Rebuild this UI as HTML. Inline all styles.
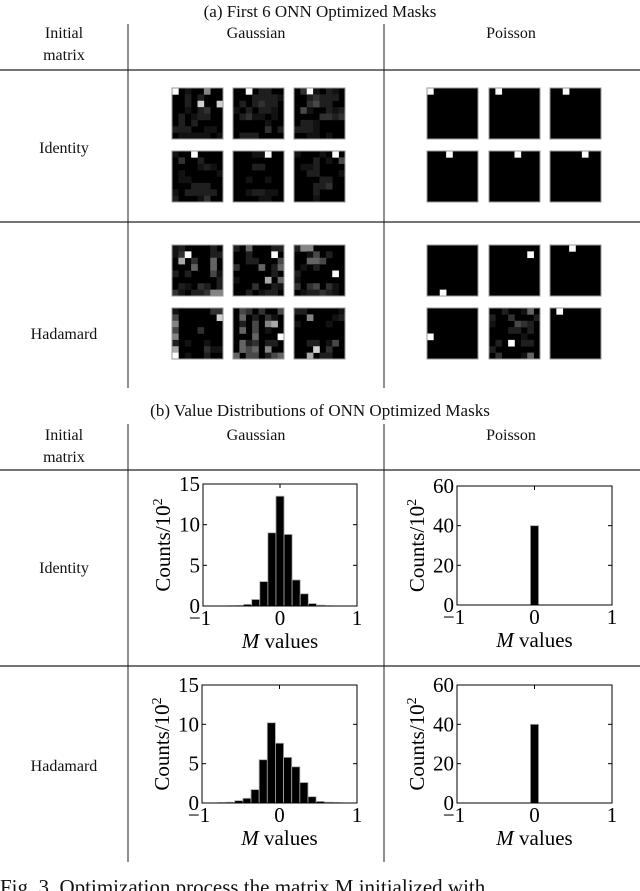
<!DOCTYPE html>
<html><head><meta charset="utf-8"><style>
html,body{margin:0;padding:0;background:#fff;}
svg{display:block;font-family:"Liberation Serif",serif;}
</style></head><body>
<svg id="fig" width="640" height="891" viewBox="0 0 640 891" xmlns="http://www.w3.org/2000/svg">
<g stroke="#222" fill="none">
<line x1="0" y1="70" x2="640" y2="70" stroke-width="1.2"/>
<line x1="0" y1="222" x2="640" y2="222" stroke-width="1.2"/>
<line x1="128" y1="24" x2="128" y2="388" stroke-width="1"/>
<line x1="384" y1="24" x2="384" y2="388" stroke-width="1"/>
<line x1="0" y1="470" x2="640" y2="470" stroke-width="1.2"/>
<line x1="0" y1="666" x2="640" y2="666" stroke-width="1.2"/>
<line x1="128" y1="424" x2="128" y2="862" stroke-width="1"/>
<line x1="384" y1="424" x2="384" y2="862" stroke-width="1"/>
</g>
<g font-size="17" text-anchor="middle" fill="#111">
<text x="320" y="17">(a) First 6 ONN Optimized Masks</text>
<text x="64" y="38" font-size="16">Initial</text>
<text x="64" y="60" font-size="16">matrix</text>
<text x="256" y="38" font-size="16">Gaussian</text>
<text x="511" y="38" font-size="16">Poisson</text>
<text x="64" y="153" font-size="16">Identity</text>
<text x="64" y="339" font-size="16">Hadamard</text>
<text x="320" y="416">(b) Value Distributions of ONN Optimized Masks</text>
<text x="64" y="440" font-size="16">Initial</text>
<text x="64" y="462" font-size="16">matrix</text>
<text x="256" y="440" font-size="16">Gaussian</text>
<text x="511" y="440" font-size="16">Poisson</text>
<text x="64" y="573" font-size="16">Identity</text>
<text x="64" y="771" font-size="16">Hadamard</text>
<text x="0" y="894" font-size="21" text-anchor="start">Fig. 3.  Optimization process the matrix M initialized with</text>
</g>
<g id="masks"></g>
<g id="hists"></g>
</svg>
<script>
// Mask intensity data (digits 0-9 per pixel, 8x8)
const gaussIdentity = [
["90100600","00202000","00208008","00102300","02012200","02020000","22200110","01111101"],
["00902200","00022221","02023220","10202210","02311010","00000100","00000302","02220000"],
["03910210","00232220","00342200","04100212","00003323","02210000","22210000","00110100"],
["10090000","03002000","00001210","01000001","01100000","00022200","10222220","20001300"],
["00011900","00000000","00022000","00000000","00100100","00000000","00122110","00001100"],
["10001090","00020104","01120000","00220001","00002200","00022300","00020000","00010000"]
];
const gaussHadamard = [
["12000020","13900022","07030050","00050050","20200041","00000002","02103202","31022366"],
["20500022","00200090","00220004","30005025","00000020","10000705","00030021","00201220"],
["26600000","00140200","00554000","01020000","20000090","10000000","30340310","01223210"],
["10000033","40000008","60000000","40003000","60000000","20100100","70000311","90100200"],
["04303004","05020310","02040670","05040100","00050009","05230220","05450600","50440245"],
["22000001","00600012","10000100","00000000","00000000","00220140","00080300","00702200"]
];
// Poisson masks: single bright pixel [row, col]; null = noisy
const poisIdentity = [[0,0],[0,1],[0,2],[0,3],[0,4],[0,5]];
const poisHadamard = [[7,2],[1,6],[0,3],[4,0],null,[0,1]];
const poisNoisy = ["00200150","20030002","10004320","00022020","00000100","02090220","20000000","03000150"];

// Histogram data (bin centers index * width)
const binWidth = 0.105;
const gaussIdBins = [-6,-5,-4,-3,-2,-1,0,1,2,3,4,5,6];
const gaussIdCounts = [0.03,0.05,0.2,0.8,3.0,9.0,13.5,8.8,3.2,1.5,0.3,0.1,0.03];
const gaussHadBins = [-7,-6,-5,-4,-3,-2,-1,0,1,2,3,4,5,6,7];
const gaussHadCounts = [0.05,0.1,0.3,0.6,1.7,5.5,10.2,7.6,5.8,4.6,2.6,0.8,0.2,0.1,0.05];
const poisBins = [0];
const poisIdCounts = [40];
const poisHadCounts = [40];
const gaussTicks = [0,5,10,15];
const poisTicks = [0,20,40,60];
const xTicks = [-1,0,1];

const NS="http://www.w3.org/2000/svg";
function mk(tag,attrs,parent){const e=document.createElementNS(NS,tag);for(const k in attrs)e.setAttribute(k,attrs[k]);parent.appendChild(e);return e;}
const masks=document.getElementById('masks');
function drawMask(x,y,rows,name){
  const g=mk('g',{},masks);
  
  
  const s=51/8;
  mk('rect',{x:x,y:y,width:51,height:51,fill:'#000'},g);
  for(let r=0;r<8;r++)for(let c=0;c<8;c++){
    const v=+rows[r][c]; if(!v)continue;
    const l=Math.round(Math.pow(v/9,1.7)*240+12);
    mk('rect',{x:x+c*s,y:y+r*s,width:s+0.3,height:s+0.3,fill:`rgb(${l},${l},${l})`},g);
  }
  mk('rect',{x:x,y:y,width:51,height:51,fill:'none',stroke:'#999','stroke-width':1},g);
}
function single(p){const rows=[];for(let r=0;r<8;r++){let s='';for(let c=0;c<8;c++)s+=(p&&p[0]===r&&p[1]===c)?'9':'0';rows.push(s);}return rows;}
const gx=[172,233,294], px=[427,489,550];
const yId=[88,151], yHad=[245,308];
for(let i=0;i<6;i++){
  const col=i%3,row=Math.floor(i/3);
  drawMask(gx[col],yId[row],gaussIdentity[i],'gaussian-identity-mask-'+(i+1));
  drawMask(gx[col],yHad[row],gaussHadamard[i],'gaussian-hadamard-mask-'+(i+1));
  drawMask(px[col],yId[row],single(poisIdentity[i]),'poisson-identity-mask-'+(i+1));
  drawMask(px[col],yHad[row],poisHadamard[i]?single(poisHadamard[i]):poisNoisy,'poisson-hadamard-mask-'+(i+1));
}

const hists=document.getElementById('hists');
function drawHist(L,R,T,B,bins,counts,ticks,name){
  const g=mk('g',{},hists);
  
  
  const ymax=ticks[ticks.length-1];
  const sx=v=>L+(v+1)/2*(R-L), sy=v=>B-v/ymax*(B-T);
  bins.forEach((b,i)=>{
    const x0=sx(b*binWidth-binWidth/2), x1=sx(b*binWidth+binWidth/2);
    const bar=mk('rect',{x:x0,y:sy(counts[i]),width:x1-x0,height:B-sy(counts[i]),fill:'#000',stroke:'#aaa','stroke-width':0.8},g);
    
    
  });
  mk('rect',{x:L,y:T,width:R-L,height:B-T,fill:'none',stroke:'#000','stroke-width':1},g);
  ticks.forEach(t=>{
    const y=sy(t);
    mk('line',{x1:L,y1:y,x2:L+4,y2:y,stroke:'#000'},g);
    mk('line',{x1:R,y1:y,x2:R-4,y2:y,stroke:'#000'},g);
    const tx=mk('text',{x:L-3,y:y+7,'font-size':21,'text-anchor':'end'},g);
    tx.textContent=t;
    
    
  });
  xTicks.forEach(t=>{
    const x=sx(t);
    mk('line',{x1:x,y1:B,x2:x,y2:B-4,stroke:'#000'},g);
    mk('line',{x1:x,y1:T,x2:x,y2:T+4,stroke:'#000'},g);
    const tx=mk('text',{x:t<0?x-3:x,y:B+19,'font-size':21,'text-anchor':'middle'},g);
    tx.textContent=t<0?'\u2212'+Math.abs(t):t;
    
    
  });
  const xl=mk('text',{x:(L+R)/2,y:B+42,'font-size':21,'text-anchor':'middle'},g);
  xl.innerHTML='<tspan font-style="italic">M</tspan> values';
  
  
  const cy=(T+B)/2;
  const yl=mk('text',{x:0,y:0,'font-size':21,'text-anchor':'middle',transform:`translate(${L-33},${cy}) rotate(-90)`},g);
  yl.innerHTML='Counts/10<tspan dy="-8" font-size="14">2</tspan>';
  
  
}
drawHist(203,357,484,606,gaussIdBins,gaussIdCounts,gaussTicks,'hist-gaussian-identity');
drawHist(202,357,685,803,gaussHadBins,gaussHadCounts,gaussTicks,'hist-gaussian-hadamard');
drawHist(457,612,486,605,poisBins,poisIdCounts,poisTicks,'hist-poisson-identity');
drawHist(457,612,685,803,poisBins,poisHadCounts,poisTicks,'hist-poisson-hadamard');
</script>
</body></html>
